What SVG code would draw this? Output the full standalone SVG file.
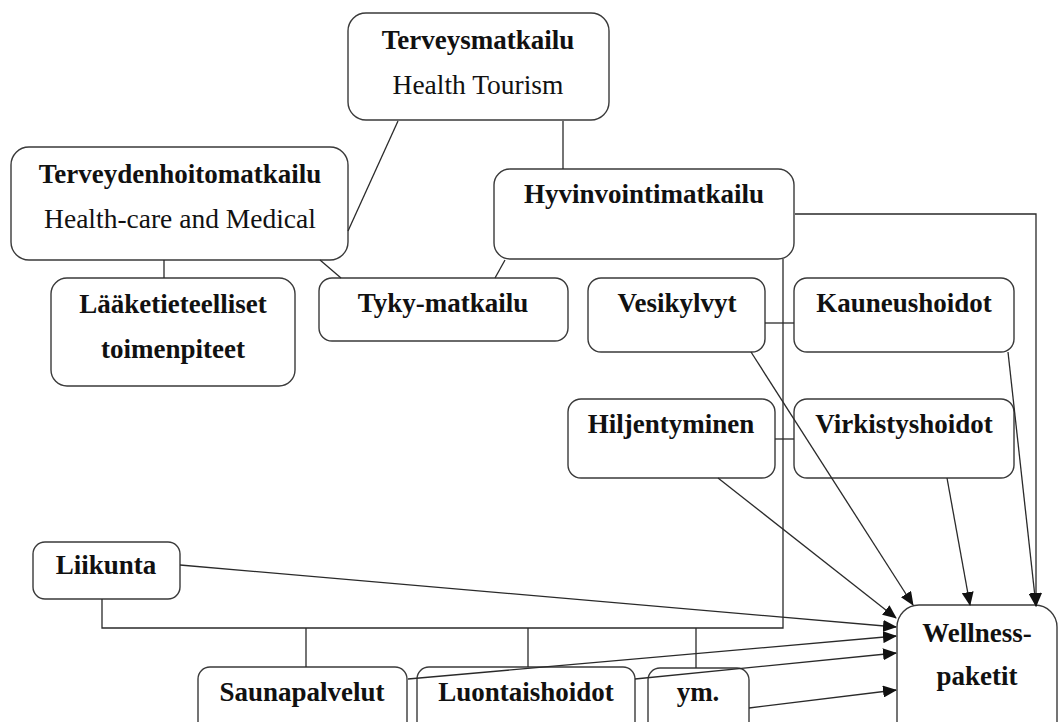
<svg xmlns="http://www.w3.org/2000/svg" width="1058" height="722" viewBox="0 0 1058 722">
<defs>
<style>
.box{fill:none;stroke:#3a3a3a;stroke-width:1.4}
.ln{fill:none;stroke:#2a2a2a;stroke-width:1.3}
.b{font-family:"Liberation Serif","Times New Roman",serif;font-weight:bold;font-size:27px;fill:#111;text-anchor:middle}
.r{font-family:"Liberation Serif","Times New Roman",serif;font-size:27.5px;fill:#111;text-anchor:middle}
</style>
<marker id="ah" markerUnits="userSpaceOnUse" markerWidth="14" markerHeight="12" refX="13" refY="6" orient="auto">
<path d="M0,0 L14,6 L0,12 z" fill="#111"/>
</marker>
</defs>
<rect width="1058" height="722" fill="#fff"/>
<g id="terveysmatkailu">
<rect class="box" x="348" y="13" width="261" height="107" rx="18"/>
<text class="b" x="478" y="49">Terveysmatkailu</text>
<text class="r" x="478" y="94">Health Tourism</text>
</g>
<g id="terveydenhoitomatkailu">
<rect class="box" x="11" y="147" width="337" height="113" rx="18"/>
<text class="b" x="180" y="183">Terveydenhoitomatkailu</text>
<text class="r" x="180" y="228">Health-care and Medical</text>
</g>
<g id="hyvinvointimatkailu">
<rect class="box" x="494" y="169" width="300" height="90" rx="16"/>
<text class="b" x="644" y="203">Hyvinvointimatkailu</text>
</g>
<g id="laaketieteelliset">
<rect class="box" x="51" y="278" width="244" height="108" rx="16"/>
<text class="b" x="173" y="313">Lääketieteelliset</text>
<text class="b" x="173" y="358">toimenpiteet</text>
</g>
<g id="tyky">
<rect class="box" x="319" y="278" width="249" height="63" rx="13"/>
<text class="b" x="443" y="312">Tyky-matkailu</text>
</g>
<g id="vesikylvyt">
<rect class="box" x="588" y="278" width="177" height="74" rx="13"/>
<text class="b" x="677" y="312">Vesikylvyt</text>
</g>
<g id="kauneushoidot">
<rect class="box" x="794" y="278" width="220" height="74" rx="13"/>
<text class="b" x="904" y="312">Kauneushoidot</text>
</g>
<g id="hiljentyminen">
<rect class="box" x="568" y="399" width="207" height="79" rx="13"/>
<text class="b" x="671" y="433">Hiljentyminen</text>
</g>
<g id="virkistyshoidot">
<rect class="box" x="794" y="399" width="220" height="79" rx="13"/>
<text class="b" x="904" y="433">Virkistyshoidot</text>
</g>
<g id="liikunta">
<rect class="box" x="33" y="542" width="147" height="57" rx="12"/>
<text class="b" x="106" y="574">Liikunta</text>
</g>
<g id="saunapalvelut">
<rect class="box" x="198" y="667" width="209" height="70" rx="12"/>
<text class="b" x="302" y="701">Saunapalvelut</text>
</g>
<g id="luontaishoidot">
<rect class="box" x="417" y="667" width="218" height="70" rx="12"/>
<text class="b" x="526" y="701">Luontaishoidot</text>
</g>
<g id="ym">
<rect class="box" x="648" y="668" width="101" height="70" rx="12"/>
<text class="b" x="698" y="701">ym.</text>
</g>
<g id="wellness">
<rect class="box" x="897" y="605" width="160" height="140" rx="22"/>
<text class="b" x="977" y="642">Wellness-</text>
<text class="b" x="977" y="685">paketit</text>
</g>
<g id="connectors">
<path class="ln" d="M398,121 L348,231"/>
<path class="ln" d="M563,121 V169"/>
<path class="ln" d="M164,260 V278"/>
<path class="ln" d="M320,260 L341,278"/>
<path class="ln" d="M505,260 L495,278"/>
<path class="ln" d="M795,214 H1036 V606" marker-end="url(#ah)"/>
<path class="ln" d="M783,259 V628 H102 V599"/>
<path class="ln" d="M306,628 V667"/>
<path class="ln" d="M528,628 V667"/>
<path class="ln" d="M696,628 V668"/>
<path class="ln" d="M765,323 H794"/>
<path class="ln" d="M775,439 H794"/>
<path class="ln" d="M751,352 L913,605" marker-end="url(#ah)"/>
<path class="ln" d="M1008,352 L1036,606" marker-end="url(#ah)"/>
<path class="ln" d="M947,478 L970,605" marker-end="url(#ah)"/>
<path class="ln" d="M718,478 L896,618" marker-end="url(#ah)"/>
<path class="ln" d="M180,565 L896,627" marker-end="url(#ah)"/>
<path class="ln" d="M408,679 L896,636" marker-end="url(#ah)"/>
<path class="ln" d="M635,679 L896,653" marker-end="url(#ah)"/>
<path class="ln" d="M749,708 L896,690" marker-end="url(#ah)"/>
</g>
</svg>
